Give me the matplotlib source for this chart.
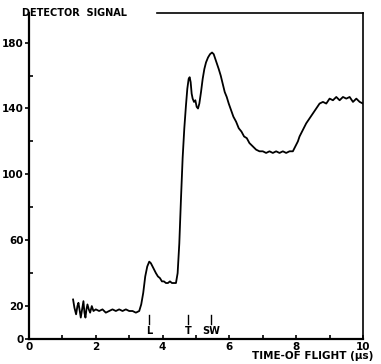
import matplotlib.pyplot as plt

# time-of-flight (us) and detector signal
tof = [1.32, 1.36, 1.41, 1.45, 1.48, 1.52, 1.55, 1.59, 1.63, 1.66, 1.69, 1.72, 1.75, 1.79,
       1.83, 1.88, 1.93, 2.0, 2.1, 2.2, 2.3, 2.4, 2.5, 2.6, 2.7, 2.8, 2.9, 3.0, 3.1, 3.2,
       3.3, 3.36, 3.42, 3.48, 3.54, 3.6, 3.65, 3.7, 3.75, 3.8, 3.86, 3.92, 3.98, 4.04,
       4.1, 4.16, 4.22, 4.28, 4.34, 4.4, 4.45, 4.5, 4.55, 4.6, 4.65, 4.7, 4.74, 4.78,
       4.81, 4.84, 4.87, 4.9, 4.94, 4.98, 5.02, 5.06, 5.1, 5.15, 5.2, 5.25, 5.3, 5.36,
       5.42, 5.48, 5.53, 5.58, 5.63, 5.68, 5.74, 5.8, 5.86, 5.92, 5.98, 6.05, 6.12,
       6.2, 6.28, 6.36, 6.44, 6.52, 6.6, 6.7, 6.8, 6.9, 7.0, 7.1, 7.2, 7.3, 7.4, 7.5,
       7.6, 7.7, 7.8, 7.9, 7.95, 8.0, 8.05, 8.1, 8.2, 8.3, 8.4, 8.5, 8.6, 8.7, 8.8,
       8.9, 9.0, 9.1, 9.2, 9.3, 9.4, 9.5, 9.6, 9.7, 9.8, 9.9, 10.0]
signal = [24, 19, 15, 20, 22, 17, 13, 18, 23, 16, 13, 18, 21, 18,
          16, 20, 17, 18, 17, 18, 16, 17, 18, 17, 18, 17, 18, 17, 17, 16,
          17, 21, 28, 38, 44, 47, 46, 44, 42, 40, 38, 37, 35, 35,
          34, 34, 35, 34, 34, 34, 40, 58, 85, 110, 128, 142, 152, 158,
          159, 156, 149, 146, 144, 145, 141, 140, 143, 150, 158, 164, 168, 171,
          173, 174, 173, 170, 167, 164, 160, 155, 150, 147, 143, 139, 135,
          132, 128, 126, 123, 122, 119, 117, 115, 114, 114, 113, 114, 113, 114, 113,
          114, 113, 114, 114, 116, 118, 120, 123, 127, 131, 134, 137, 140, 143, 144,
          143, 146, 145, 147, 145, 147, 146, 147, 144, 146, 144, 143]

# peak markers
peak_names = ["L", "T", "SW"]
peak_pos = [3.59, 4.76, 5.45]

fig = plt.figure(figsize=(3.81, 3.64), dpi=100)
ax = fig.add_axes([29 / 381, 25 / 364, 334 / 381, 326 / 364])

ax.plot(tof, signal, color="black", linewidth=1.3)

for name, pos in zip(peak_names, peak_pos):
    ax.plot([pos, pos], [9, 14.5], color="black", linewidth=1.0)
    ax.text(pos, 5, name, ha="center", va="center", fontsize=7, fontweight="bold")

ax.set_xlim(0, 10)
ax.set_ylim(0, 198)

ax.set_xticks([0, 2, 4, 6, 8, 10])
ax.set_xticks([1, 3, 5, 7, 9], minor=True)
ax.set_yticks([0, 20, 60, 100, 140, 180])
ax.set_yticks([40, 80, 120, 160], minor=True)
ax.tick_params(axis="x", which="both", direction="in", length=3, width=1.2,
               labelsize=7.5, pad=2)
ax.tick_params(axis="y", which="major", direction="out", length=3, width=1.2,
               labelsize=7.5, pad=1)
ax.tick_params(axis="y", which="minor", direction="in", length=3, width=1.2)
for lbl in ax.get_xticklabels() + ax.get_yticklabels():
    lbl.set_fontweight("bold")

ax.spines["left"].set_linewidth(1.6)
ax.spines["bottom"].set_linewidth(1.6)
ax.spines["right"].set_linewidth(1.2)
ax.spines["top"].set_linewidth(1.2)
ax.spines["top"].set_bounds(3.83, 10)

ax.text(-0.02, 1.0, "DETECTOR  SIGNAL", transform=ax.transAxes,
        ha="left", va="center", fontsize=7, fontweight="bold")
ax.text(0.668, -0.052, "TIME-OF FLIGHT (\u03bcs)", transform=ax.transAxes,
        ha="left", va="center", fontsize=7.5, fontweight="bold", clip_on=False)

fig.savefig("out.png", dpi=100)
